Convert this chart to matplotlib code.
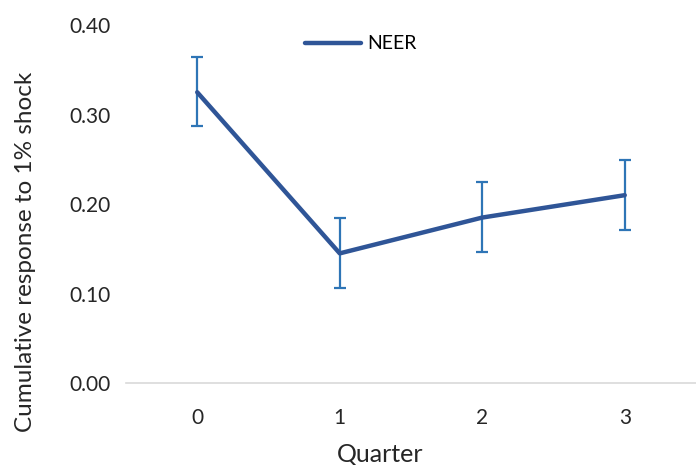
import numpy as np
import matplotlib.pyplot as plt

plt.rcParams['font.family'] = ['Lato', 'DejaVu Sans']

quarters = ['0', '1', '2', '3']
neer = [0.325, 0.145, 0.185, 0.210]
upper = [0.364, 0.184, 0.225, 0.249]
lower = [0.287, 0.106, 0.146, 0.171]

x = np.arange(len(quarters))
err = [np.array(neer) - np.array(lower), np.array(upper) - np.array(neer)]

fig = plt.figure(figsize=(6.96, 4.65), dpi=100)
ax = fig.add_axes([0.181, 0.176, 0.819, 0.770])

ax.errorbar(x, neer, yerr=err, fmt='none', ecolor='#2E75B6', elinewidth=1.6,
            capsize=4.5, capthick=1.6, zorder=2)
ax.plot(x, neer, color='#2F5597', linewidth=3.2, solid_capstyle='round',
        label='NEER', zorder=3)

ax.set_xlim(-0.5, 3.5)
ax.set_ylim(0, 0.40)
ax.set_yticks([0, 0.1, 0.2, 0.3, 0.4])
ax.set_yticklabels(['0.00', '0.10', '0.20', '0.30', '0.40'])
ax.set_xticks(x)
ax.set_xticklabels(quarters)
ax.tick_params(length=0, labelsize=15, colors='#262626')
ax.tick_params(axis='x', pad=18)
ax.tick_params(axis='y', pad=11)

for s in ['top', 'right', 'left']:
    ax.spines[s].set_visible(False)
ax.spines['bottom'].set_color('#D9D9D9')
ax.spines['bottom'].set_linewidth(1.2)

ax.set_xlabel('Quarter', fontsize=18, color='#262626')
ax.set_ylabel('Cumulative response to 1% shock', fontsize=17.5, color='#262626')
ax.xaxis.set_label_coords(0.446, -0.165)
ax.yaxis.set_label_coords(-0.158, 0.366)

ax.legend(loc='upper center', bbox_to_anchor=(0.412, 1.02), frameon=False,
          fontsize=14, handlelength=2.9, handletextpad=0.3)

fig.savefig('out.png', dpi=100)
